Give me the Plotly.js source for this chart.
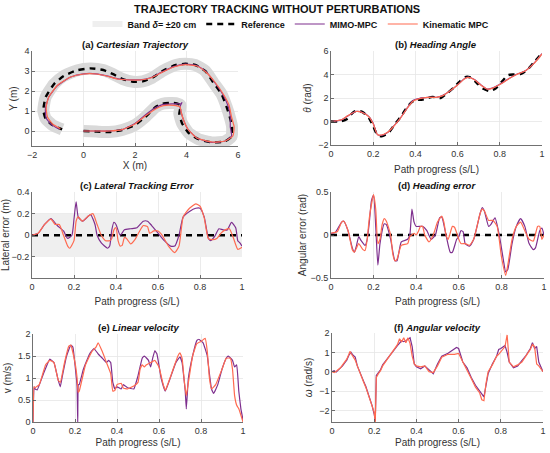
<!DOCTYPE html>
<html>
<head>
<meta charset="utf-8">
<script src="https://cdn.plot.ly/plotly-3.0.1.min.js"></script>
<style>html,body{margin:0;padding:0;background:#fff;}#chart{width:550px;height:453px;}</style>
</head>
<body>
<div id="chart"></div>
<script>
// ---------- (a) Cartesian trajectory ----------
const refX = [0, 0.5, 1.0, 1.5, 2.0, 2.4, 2.8, 3.07, 3.35, 3.58, 3.77, 3.72, 3.83, 4.09, 4.47, 4.98, 5.49, 5.75, 5.77, 5.68, 5.56, 5.36, 5.04, 4.73, 4.34, 3.96, 3.58, 3.07, 2.68, 2.3, 1.92, 1.53, 1.15, 0.77, 0.26, -0.26, -0.77, -1.15, -1.47, -1.56, -1.47, -1.21, -0.83];
const refY = [0, -0.03, -0.05, 0.05, 0.3, 0.7, 1.2, 1.36, 1.4, 1.39, 1.28, 0.87, 0.38, -0.11, -0.41, -0.57, -0.52, -0.28, 0.21, 0.7, 1.2, 1.85, 2.43, 3.0, 3.3, 3.36, 3.3, 3.0, 2.67, 2.48, 2.46, 2.59, 2.84, 3.05, 3.13, 3.03, 2.75, 2.34, 1.69, 1.03, 0.62, 0.3, 0.08];
const kinX = [0, 0.5, 1.0, 1.5, 2.0, 2.4, 2.8, 3.1, 3.5, 3.75, 3.8, 3.9, 4.05, 4.4, 5.0, 5.5, 5.8, 5.85, 5.75, 5.65, 5.45, 5.1, 4.75, 4.4, 3.95, 3.5, 3.0, 2.6, 2.2, 1.8, 1.3, 0.9, 0.5, 0.0, -0.5, -1.0, -1.35, -1.45, -1.4, -1.2, -0.9];
const kinY = [0, 0.0, 0.0, 0.07, 0.35, 0.75, 1.1, 1.27, 1.28, 1.2, 0.9, 0.5, 0.1, -0.35, -0.55, -0.5, -0.25, 0.2, 0.7, 1.3, 1.8, 2.45, 2.95, 3.25, 3.32, 3.2, 2.9, 2.65, 2.55, 2.55, 2.6, 2.75, 2.85, 2.85, 2.7, 2.3, 1.7, 1.2, 0.7, 0.35, 0.12];
const mimoX = [0, 0.5, 1.0, 1.5, 2.0, 2.4, 2.8, 3.1, 3.5, 3.8, 3.82, 3.75, 3.8, 3.9, 4.05, 4.4, 5.0, 5.5, 5.75, 5.7, 5.7, 5.6, 5.4, 5.08, 4.75, 4.4, 3.95, 3.5, 3.0, 2.6, 2.2, 1.8, 1.3, 0.9, 0.5, 0.0, -0.5, -1.0, -1.35, -1.48, -1.45, -1.25, -0.95];
const mimoY = [0, 0.0, 0.0, 0.07, 0.38, 0.8, 1.17, 1.33, 1.36, 1.37, 1.42, 1.22, 0.9, 0.5, 0.1, -0.35, -0.57, -0.5, -0.25, 0.2, 0.75, 1.3, 1.85, 2.45, 2.98, 3.27, 3.34, 3.22, 2.92, 2.66, 2.56, 2.56, 2.62, 2.76, 2.86, 2.86, 2.7, 2.28, 1.7, 1.1, 0.65, 0.32, 0.1];

// ---------- (b) Heading angle ----------
const sRefHead = [0, 0.05, 0.08, 0.10, 0.12, 0.15, 0.18, 0.20, 0.22, 0.24, 0.27, 0.30, 0.33, 0.36, 0.38, 0.40, 0.43, 0.46, 0.48, 0.52, 0.55, 0.58, 0.61, 0.64, 0.66, 0.69, 0.72, 0.75, 0.78, 0.81, 0.84, 0.87, 0.90, 0.93, 0.96, 1.0];
const refHead = [0, 0.02, 0.25, 0.7, 0.92, 0.8, 0.3, -0.4, -1.15, -1.25, -1.0, -0.3, 0.4, 1.2, 1.6, 1.85, 1.85, 2.0, 2.1, 2.0, 2.4, 2.85, 3.4, 3.8, 3.75, 3.3, 2.8, 2.6, 2.8, 3.4, 3.95, 4.0, 4.05, 4.4, 5.0, 5.8];
const sHead = [0, 0.05, 0.08, 0.12, 0.15, 0.18, 0.20, 0.22, 0.24, 0.27, 0.30, 0.33, 0.36, 0.39, 0.42, 0.46, 0.50, 0.53, 0.56, 0.60, 0.63, 0.65, 0.68, 0.71, 0.74, 0.76, 0.80, 0.84, 0.88, 0.92, 0.96, 1.0];
const kinHead = [0, 0.15, 0.5, 0.85, 0.75, 0.4, -0.2, -1.1, -1.15, -0.9, -0.35, 0.3, 1.1, 1.75, 1.95, 2.05, 2.05, 2.2, 2.55, 3.1, 3.6, 3.75, 3.55, 3.1, 2.75, 2.8, 3.15, 3.6, 4.0, 4.3, 4.9, 5.75];
const mimoHead = [0, 0.14, 0.48, 0.86, 0.77, 0.42, -0.15, -1.12, -1.18, -0.92, -0.33, 0.32, 1.12, 1.8, 1.98, 2.05, 2.06, 2.22, 2.55, 3.12, 3.62, 3.78, 3.57, 3.12, 2.76, 2.82, 3.17, 3.62, 4.02, 4.3, 4.92, 5.78];

// ---------- (c) Lateral tracking error ----------
const bandHalf = 0.2;
const sLatM = [0, 0.03, 0.06, 0.09, 0.12, 0.15, 0.17, 0.19, 0.20, 0.21, 0.22, 0.24, 0.27, 0.28, 0.30, 0.31, 0.33, 0.36, 0.37, 0.38, 0.39, 0.40, 0.42, 0.44, 0.47, 0.50, 0.53, 0.55, 0.57, 0.60, 0.63, 0.66, 0.68, 0.70, 0.72, 0.75, 0.78, 0.80, 0.82, 0.84, 0.85, 0.87, 0.89, 0.91, 0.93, 0.95, 0.97, 0.98, 0.99, 1.0];
const latM = [0, 0.02, 0.1, 0.155, 0.09, 0.04, -0.03, 0.0, 0.15, 0.31, 0.17, 0.13, 0.18, 0.19, 0.1, 0.0, -0.07, -0.12, -0.1, 0.05, 0.12, 0.1, 0.0, 0.05, 0.06, 0.07, 0.13, 0.13, 0.09, 0.02, -0.05, -0.1, -0.1, 0.0, 0.17, 0.22, 0.25, 0.25, 0.17, -0.03, -0.05, -0.01, 0.06, 0.05, 0.05, 0.12, 0.07, -0.05, -0.07, -0.1];
const sLatK = [0, 0.03, 0.06, 0.09, 0.11, 0.13, 0.15, 0.17, 0.18, 0.20, 0.21, 0.22, 0.24, 0.27, 0.29, 0.31, 0.33, 0.35, 0.37, 0.38, 0.39, 0.40, 0.41, 0.42, 0.43, 0.44, 0.45, 0.47, 0.49, 0.51, 0.53, 0.55, 0.56, 0.58, 0.60, 0.62, 0.65, 0.68, 0.70, 0.72, 0.75, 0.78, 0.80, 0.82, 0.84, 0.86, 0.88, 0.90, 0.92, 0.94, 0.96, 0.98, 1.0];
const latK = [0, 0.02, 0.1, 0.15, 0.1, 0.1, 0.0, -0.1, -0.12, -0.05, 0.13, 0.17, 0.13, 0.18, 0.2, 0.1, 0.0, -0.05, -0.05, -0.03, 0.05, 0.07, -0.05, -0.1, -0.09, -0.02, -0.03, -0.08, -0.04, 0.03, 0.09, 0.08, 0.02, 0.04, 0.04, 0.0, -0.1, -0.16, -0.1, 0.17, 0.25, 0.29, 0.27, 0.16, -0.03, -0.04, -0.03, 0.02, 0.05, 0.06, -0.03, -0.13, -0.11];

// ---------- (d) Heading error ----------
const sAngM = [0, 0.02, 0.05, 0.06, 0.08, 0.10, 0.11, 0.12, 0.13, 0.14, 0.16, 0.17, 0.18, 0.19, 0.20, 0.21, 0.22, 0.23, 0.25, 0.26, 0.28, 0.30, 0.31, 0.33, 0.36, 0.37, 0.38, 0.39, 0.40, 0.43, 0.45, 0.47, 0.49, 0.51, 0.52, 0.54, 0.56, 0.57, 0.59, 0.60, 0.61, 0.62, 0.63, 0.65, 0.67, 0.70, 0.71, 0.72, 0.74, 0.75, 0.77, 0.79, 0.81, 0.82, 0.83, 0.85, 0.87, 0.89, 0.91, 0.93, 0.95, 0.96, 0.98, 0.99, 1.0];
const angM = [0.02, 0.03, 0.15, 0.16, 0.05, -0.15, -0.2, -0.12, -0.02, -0.06, -0.12, -0.05, 0.15, 0.4, 0.46, 0.1, -0.35, -0.1, 0.13, 0.12, -0.05, -0.3, -0.3, -0.08, -0.05, 0.0, 0.3, 0.15, 0.1, 0.1, 0.05, -0.05, 0.0, 0.2, 0.21, 0.0, -0.2, -0.2, -0.05, -0.02, 0.05, 0.04, -0.1, -0.13, -0.05, 0.25, 0.32, 0.28, 0.1, 0.12, 0.2, 0.0, -0.3, -0.43, -0.4, -0.1, 0.1, 0.19, 0.1, -0.1, -0.17, -0.15, 0.05, 0.08, 0.0];
const sAngK = [0, 0.03, 0.05, 0.06, 0.08, 0.10, 0.11, 0.12, 0.13, 0.15, 0.16, 0.17, 0.18, 0.20, 0.21, 0.22, 0.23, 0.24, 0.25, 0.26, 0.28, 0.29, 0.30, 0.31, 0.33, 0.36, 0.37, 0.39, 0.40, 0.41, 0.42, 0.43, 0.44, 0.46, 0.48, 0.50, 0.52, 0.53, 0.54, 0.55, 0.57, 0.58, 0.60, 0.61, 0.63, 0.65, 0.67, 0.70, 0.71, 0.72, 0.74, 0.76, 0.78, 0.80, 0.82, 0.83, 0.85, 0.87, 0.89, 0.91, 0.93, 0.95, 0.97, 0.98, 0.99, 1.0];
const angK = [0.02, 0.04, 0.15, 0.16, 0.05, -0.17, -0.2, -0.15, -0.1, -0.17, -0.18, -0.05, 0.2, 0.47, 0.3, -0.1, -0.05, 0.12, 0.19, 0.16, 0.0, -0.22, -0.3, -0.28, -0.12, -0.1, -0.02, 0.02, 0.0, 0.04, 0.1, 0.1, 0.0, -0.08, 0.0, 0.15, 0.22, 0.15, 0.0, -0.05, 0.1, 0.09, -0.05, -0.1, -0.1, -0.12, -0.05, 0.25, 0.3, 0.28, 0.17, 0.17, 0.1, -0.25, -0.47, -0.35, -0.05, 0.1, 0.15, 0.05, -0.05, -0.07, 0.1, 0.1, -0.05, 0.0];

// ---------- (e) Linear velocity ----------
const sVelM = [0, 0.005, 0.01, 0.02, 0.05, 0.08, 0.10, 0.12, 0.13, 0.14, 0.16, 0.18, 0.19, 0.20, 0.21, 0.213, 0.216, 0.22, 0.24, 0.27, 0.29, 0.31, 0.33, 0.35, 0.36, 0.37, 0.38, 0.39, 0.40, 0.42, 0.43, 0.45, 0.48, 0.50, 0.52, 0.53, 0.55, 0.56, 0.57, 0.58, 0.59, 0.61, 0.63, 0.65, 0.68, 0.70, 0.71, 0.725, 0.73, 0.74, 0.76, 0.78, 0.79, 0.81, 0.83, 0.84, 0.85, 0.86, 0.88, 0.90, 0.92, 0.93, 0.95, 0.96, 0.97, 0.98, 0.99, 1.0];
const velM = [0, 0.8, 0.75, 0.73, 1.1, 1.43, 1.35, 0.95, 0.8, 1.05, 1.5, 1.75, 1.7, 1.3, 0.8, 0.0, 0.85, 0.85, 1.2, 1.55, 1.67, 1.55, 1.45, 1.35, 1.4, 1.35, 0.9, 0.75, 0.8, 0.75, 0.85, 0.78, 0.75, 1.05, 1.45, 1.5, 1.4, 1.25, 1.45, 1.62, 1.55, 1.0, 0.7, 0.95, 1.35, 1.48, 1.35, 0.7, 0.3, 1.0, 1.5, 1.85, 1.88, 1.8, 1.5, 1.1, 0.75, 0.65, 0.85, 1.2, 1.45, 1.5, 1.4, 1.25, 1.3, 0.7, 0.3, 0.05];
const sVelK = [0, 0.005, 0.01, 0.03, 0.06, 0.08, 0.10, 0.12, 0.13, 0.15, 0.17, 0.18, 0.20, 0.21, 0.215, 0.22, 0.25, 0.28, 0.30, 0.31, 0.33, 0.35, 0.37, 0.38, 0.39, 0.40, 0.42, 0.43, 0.45, 0.48, 0.50, 0.51, 0.52, 0.53, 0.54, 0.56, 0.58, 0.60, 0.62, 0.63, 0.66, 0.69, 0.70, 0.71, 0.72, 0.73, 0.74, 0.76, 0.78, 0.80, 0.82, 0.83, 0.84, 0.85, 0.87, 0.90, 0.92, 0.94, 0.95, 0.96, 0.97, 0.98, 1.0];
const velK = [0, 0.8, 0.78, 0.85, 1.3, 1.4, 1.35, 0.95, 0.9, 1.35, 1.72, 1.75, 1.35, 1.0, 0.68, 0.7, 1.3, 1.6, 1.7, 1.8, 1.6, 1.35, 1.1, 0.7, 0.72, 0.85, 0.88, 0.77, 0.75, 0.82, 0.9, 1.2, 1.3, 1.25, 1.3, 1.35, 1.4, 1.25, 0.85, 0.72, 1.1, 1.5, 1.57, 1.45, 0.95, 0.6, 0.9, 1.5, 1.78, 1.83, 1.9, 1.6, 1.0, 0.75, 0.85, 1.2, 1.45, 1.45, 1.2, 0.6, 0.38, 0.3, 0.0];

// ---------- (f) Angular velocity ----------
const sOmM = [0, 0.01, 0.02, 0.03, 0.04, 0.05, 0.06, 0.07, 0.08, 0.09, 0.10, 0.11, 0.12, 0.13, 0.14, 0.15, 0.16, 0.17, 0.18, 0.19, 0.20, 0.205, 0.21, 0.22, 0.23, 0.24, 0.25, 0.27, 0.29, 0.31, 0.33, 0.34, 0.35, 0.36, 0.37, 0.38, 0.39, 0.40, 0.42, 0.44, 0.46, 0.48, 0.50, 0.52, 0.55, 0.58, 0.59, 0.60, 0.62, 0.64, 0.66, 0.68, 0.70, 0.71, 0.72, 0.73, 0.74, 0.76, 0.78, 0.79, 0.80, 0.82, 0.83, 0.84, 0.86, 0.88, 0.90, 0.92, 0.94, 0.95, 0.96, 0.97, 0.98, 0.99, 1.0];
const omM = [0, 0.05, -0.02, 0.08, 0.2, 0.3, 0.45, 0.6, 0.85, 1.0, 0.85, 0.75, 0.3, 0.0, -0.3, -0.5, -0.75, -1.05, -1.4, -1.75, -2.2, -2.55, -0.2, -0.05, 0.1, 0.35, 0.5, 0.8, 1.1, 1.35, 1.6, 1.55, 1.6, 1.7, 1.75, 1.3, 0.4, 0.25, 0.15, 0.3, 0.1, -0.1, 0.4, 0.8, 0.95, 1.15, 1.25, 1.2, 0.5, 0.2, -0.3, -0.7, -1.0, -1.2, -1.3, -0.7, -0.1, 0.4, 0.8, 1.15, 1.2, 1.35, 1.0, 0.5, 0.2, 0.3, 0.55, 0.85, 1.2, 1.5, 1.2, 1.3, 0.5, 0.2, 0.0];
const sOmK = [0, 0.01, 0.02, 0.03, 0.04, 0.05, 0.06, 0.07, 0.08, 0.085, 0.09, 0.10, 0.11, 0.12, 0.13, 0.14, 0.15, 0.16, 0.17, 0.18, 0.19, 0.20, 0.205, 0.21, 0.22, 0.23, 0.24, 0.25, 0.27, 0.29, 0.31, 0.32, 0.33, 0.34, 0.35, 0.36, 0.37, 0.38, 0.39, 0.40, 0.42, 0.44, 0.46, 0.48, 0.50, 0.52, 0.55, 0.58, 0.60, 0.62, 0.64, 0.66, 0.68, 0.70, 0.71, 0.72, 0.73, 0.74, 0.76, 0.78, 0.79, 0.80, 0.82, 0.83, 0.835, 0.84, 0.86, 0.88, 0.90, 0.92, 0.94, 0.95, 0.96, 0.97, 0.98, 1.0];
const omK = [0, -0.05, 0.02, 0.1, 0.2, 0.35, 0.5, 0.65, 0.9, 1.05, 0.95, 0.8, 0.6, 0.3, 0.0, -0.35, -0.55, -0.8, -1.1, -1.4, -1.75, -2.1, -2.6, -0.3, -0.1, 0.05, 0.3, 0.45, 0.75, 1.1, 1.4, 1.7, 1.55, 1.75, 1.5, 1.75, 1.45, 0.8, 0.4, 0.3, 0.25, 0.3, 0.0, -0.05, 0.3, 0.75, 0.9, 0.9, 0.95, 0.5, 0.1, -0.35, -0.8, -1.1, -1.45, -1.5, -0.6, 0.0, 0.35, 0.8, 0.9, 1.05, 1.3, 1.9, 1.2, 0.5, 0.25, 0.35, 0.5, 0.8, 1.15, 1.4, 1.3, 0.4, 0.3, 0.0];

const sLine = [0, 1];
const zeroLine = [0, 0];

// ---------- styling ----------
const purple = '#7E2F8E';
const orange = '#FF6A50';
const bandCol = '#d9d9d9';
const FONT = 'Liberation Sans, Arial, Helvetica, sans-serif';
const refLine = {color: '#000', width: 2.4, dash: '6px,5px'};

const traces = [];
// (a)
traces.push({x: refX, y: refY, xaxis: 'x', yaxis: 'y', mode: 'lines', line: {color: bandCol, width: 12, shape: 'spline', smoothing: 0.5}, showlegend: false, hoverinfo: 'skip'});
traces.push({x: refX, y: refY, xaxis: 'x', yaxis: 'y', mode: 'lines', line: {color: '#000', width: 2.4, dash: '6px,5px', shape: 'spline', smoothing: 0.5}, name: 'Reference', legendrank: 2});
traces.push({x: mimoX, y: mimoY, xaxis: 'x', yaxis: 'y', mode: 'lines', line: {color: purple, width: 1.2, shape: 'spline', smoothing: 0.5}, name: 'MIMO-MPC', legendrank: 3});
traces.push({x: kinX, y: kinY, xaxis: 'x', yaxis: 'y', mode: 'lines', line: {color: orange, width: 1.2, shape: 'spline', smoothing: 0.5}, name: 'Kinematic MPC', legendrank: 4});
// (b)
traces.push({x: sRefHead, y: refHead, xaxis: 'x2', yaxis: 'y2', mode: 'lines', line: {color:'#000', width: 2.4, dash: '6px,5px', shape: 'spline', smoothing: 0.6}, showlegend: false});
traces.push({x: sHead, y: mimoHead, xaxis: 'x2', yaxis: 'y2', mode: 'lines', line: {color: purple, width: 1.2, shape: 'spline', smoothing: 0.6}, showlegend: false});
traces.push({x: sHead, y: kinHead, xaxis: 'x2', yaxis: 'y2', mode: 'lines', line: {color: orange, width: 1.2, shape: 'spline', smoothing: 0.6}, showlegend: false});
// (c)
traces.push({x: [sLine[0], sLine[1], sLine[1], sLine[0]], y: [-bandHalf, -bandHalf, bandHalf, bandHalf], xaxis: 'x3', yaxis: 'y3', mode: 'none', fill: 'toself', fillcolor: '#efefef', name: 'Band <i>δ</i>= ±20 cm', legendrank: 1, hoverinfo: 'skip'});
traces.push({x: sLine, y: zeroLine, xaxis: 'x3', yaxis: 'y3', mode: 'lines', line: refLine, showlegend: false});
traces.push({x: sLatM, y: latM, xaxis: 'x3', yaxis: 'y3', mode: 'lines', line: {color: purple, width: 1.2, shape: 'spline', smoothing: 0.5}, showlegend: false});
traces.push({x: sLatK, y: latK, xaxis: 'x3', yaxis: 'y3', mode: 'lines', line: {color: orange, width: 1.2, shape: 'spline', smoothing: 0.5}, showlegend: false});
// (d)
traces.push({x: sLine, y: zeroLine, xaxis: 'x4', yaxis: 'y4', mode: 'lines', line: refLine, showlegend: false});
traces.push({x: sAngM, y: angM, xaxis: 'x4', yaxis: 'y4', mode: 'lines', line: {color: purple, width: 1.2, shape: 'spline', smoothing: 0.5}, showlegend: false});
traces.push({x: sAngK, y: angK, xaxis: 'x4', yaxis: 'y4', mode: 'lines', line: {color: orange, width: 1.2, shape: 'spline', smoothing: 0.5}, showlegend: false});
// (e)
traces.push({x: sVelM, y: velM, xaxis: 'x5', yaxis: 'y5', mode: 'lines', line: {color: purple, width: 1.2, shape: 'spline', smoothing: 0.3}, showlegend: false});
traces.push({x: sVelK, y: velK, xaxis: 'x5', yaxis: 'y5', mode: 'lines', line: {color: orange, width: 1.2, shape: 'spline', smoothing: 0.3}, showlegend: false});
// (f)
traces.push({x: sOmM, y: omM, xaxis: 'x6', yaxis: 'y6', mode: 'lines', line: {color: purple, width: 1.2}, showlegend: false});
traces.push({x: sOmK, y: omK, xaxis: 'x6', yaxis: 'y6', mode: 'lines', line: {color: orange, width: 1.2}, showlegend: false});

const W = 550, H = 453;
function dx(a, b) { return [a / W, b / W]; }
function dy(top, bot) { return [1 - bot / H, 1 - top / H]; }

function ax(domain, range, dtick, title, standoff, extra) {
  return Object.assign({
    domain: domain, range: range, dtick: dtick, tick0: 0,
    showline: true, linecolor: '#4d4d4d', linewidth: 0.8, mirror: false,
    showgrid: true, gridcolor: '#e6e6e6', gridwidth: 0.8, zeroline: false,
    ticks: 'inside', ticklen: 3, tickcolor: '#4d4d4d', tickwidth: 0.8,
    tickfont: {family: FONT, size: 9, color: '#333'},
    title: {text: title, font: {family: FONT, size: 10, color: '#333'}, standoff: standoff},
    fixedrange: true
  }, extra || {});
}

const layout = {
  width: W, height: H,
  margin: {l: 0, r: 0, t: 0, b: 0},
  paper_bgcolor: '#fff', plot_bgcolor: 'rgba(0,0,0,0)',
  font: {family: FONT, color: '#222'},
  showlegend: true,
  legend: {orientation: 'h', x: 291 / W, xanchor: 'center', y: 1 - 24 / H, yanchor: 'middle',
    font: {family: FONT, size: 9, color: '#111', weight: 'bold'}, itemwidth: 30, tracegroupgap: 0, bgcolor: 'rgba(0,0,0,0)'},
  xaxis:  ax(dx(32, 238), [-2, 6], 2, 'X (m)', 2, {anchor: 'y'}),
  yaxis:  ax(dy(51, 146), [-0.75, 4], 1, 'Y (m)', 4, {anchor: 'x'}),
  xaxis2: ax(dx(331, 542), [0, 1], 0.2, 'Path progress (s/L)', 8, {anchor: 'y2'}),
  yaxis2: ax(dy(51, 145), [-2, 6], 2, '<i>θ</i> (rad)', 4, {anchor: 'x2'}),
  xaxis3: ax(dx(32, 242), [0, 1], 0.2, 'Path progress (s/L)', 7, {anchor: 'y3'}),
  yaxis3: ax(dy(192, 278), [-0.395, 0.4], 0.2, 'Lateral error (m)', 2, {anchor: 'x3'}),
  xaxis4: ax(dx(331, 544), [0, 1], 0.2, 'Path progress (s/L)', 7, {anchor: 'y4'}),
  yaxis4: ax(dy(192, 278), [-0.5, 0.5], 0.5, 'Angular error (rad)', 2, {anchor: 'x4'}),
  xaxis5: ax(dx(33, 243), [0, 1], 0.2, 'Path progress (s/L)', 4, {anchor: 'y5'}),
  yaxis5: ax(dy(334, 422), [0, 2], 0.5, 'v (m/s)', 4, {anchor: 'x5'}),
  xaxis6: ax(dx(332, 543), [0, 1], 0.2, 'Path progress (s/L)', 4, {anchor: 'y6'}),
  yaxis6: ax(dy(333, 422), [-2.6, 2], 1, '<i>ω</i> (rad/s)', 4, {anchor: 'x6'}),
  annotations: [
    {text: '<b>TRAJECTORY TRACKING WITHOUT PERTURBATIONS</b>', x: 277 / W, y: 1 - 9 / H, xref: 'paper', yref: 'paper', showarrow: false, xanchor: 'center', yanchor: 'middle', font: {family: FONT, size: 11, color: '#111'}},
    {text: '<b>(a) <i>Cartesian Trajectory</i></b>', x: 135 / W, y: 1 - 44 / H, xref: 'paper', yref: 'paper', showarrow: false, xanchor: 'center', yanchor: 'middle', font: {family: FONT, size: 9.5, color: '#111'}},
    {text: '<b>(b) <i>Heading Angle</i></b>', x: 436 / W, y: 1 - 44 / H, xref: 'paper', yref: 'paper', showarrow: false, xanchor: 'center', yanchor: 'middle', font: {family: FONT, size: 9.5, color: '#111'}},
    {text: '<b>(c) <i>Lateral Tracking Error</i></b>', x: 137 / W, y: 1 - 185 / H, xref: 'paper', yref: 'paper', showarrow: false, xanchor: 'center', yanchor: 'middle', font: {family: FONT, size: 9.5, color: '#111'}},
    {text: '<b>(d) <i>Heading error</i></b>', x: 437 / W, y: 1 - 185 / H, xref: 'paper', yref: 'paper', showarrow: false, xanchor: 'center', yanchor: 'middle', font: {family: FONT, size: 9.5, color: '#111'}},
    {text: '<b>(e) <i>Linear velocity</i></b>', x: 138 / W, y: 1 - 327 / H, xref: 'paper', yref: 'paper', showarrow: false, xanchor: 'center', yanchor: 'middle', font: {family: FONT, size: 9.5, color: '#111'}},
    {text: '<b>(f) <i>Angular velocity</i></b>', x: 437 / W, y: 1 - 327 / H, xref: 'paper', yref: 'paper', showarrow: false, xanchor: 'center', yanchor: 'middle', font: {family: FONT, size: 9.5, color: '#111'}}
  ]
};

Plotly.newPlot('chart', traces, layout, {staticPlot: true, displayModeBar: false});
</script>
</body>
</html>
